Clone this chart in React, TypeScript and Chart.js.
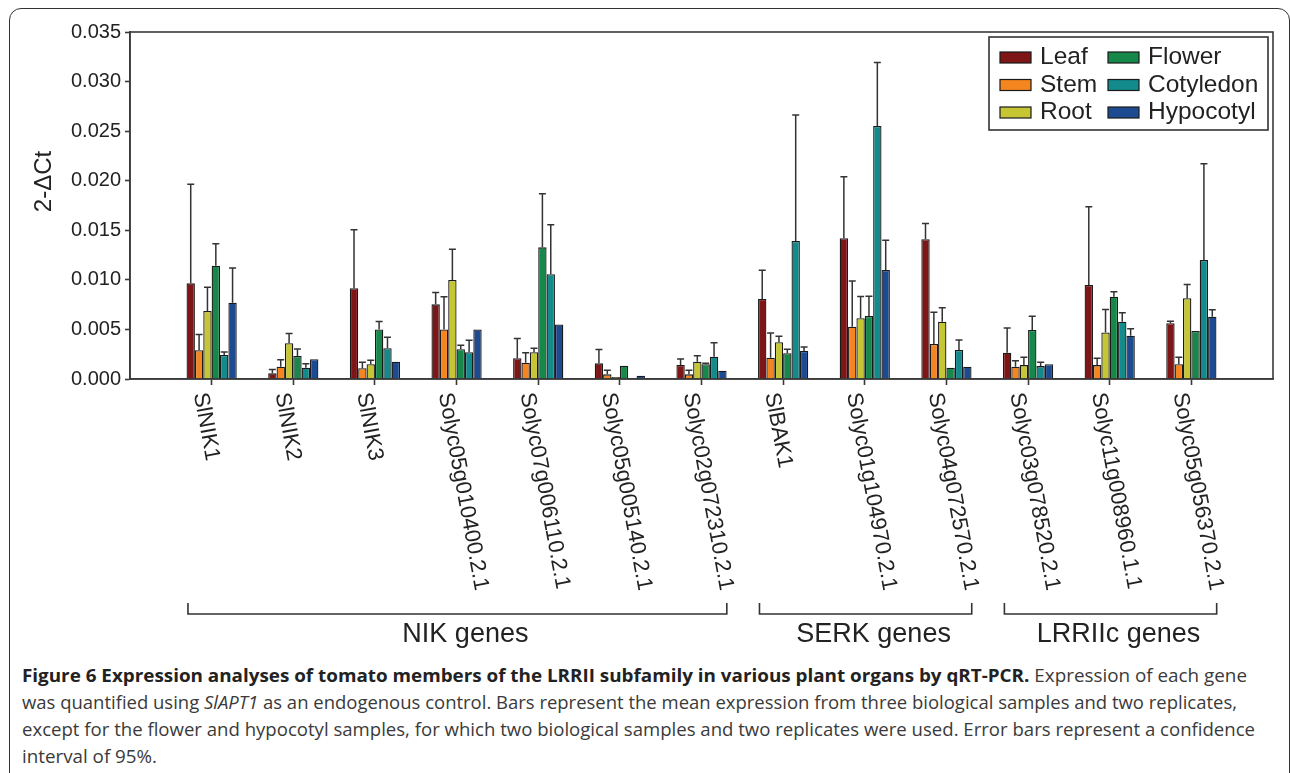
import React, { useEffect, useLayoutEffect, useRef } from 'react';
import { Chart, registerables } from 'chart.js';

Chart.register(...registerables);

const FONT = '"Liberation Sans", Arial, Helvetica, sans-serif';

const genes = [
  'SlNIK1', 'SlNIK2', 'SlNIK3', 'Solyc05g010400.2.1', 'Solyc07g006110.2.1',
  'Solyc05g005140.2.1', 'Solyc02g072310.2.1', 'SlBAK1', 'Solyc01g104970.2.1',
  'Solyc04g072570.2.1', 'Solyc03g078520.2.1', 'Solyc11g008960.1.1', 'Solyc05g056370.2.1',
];

const organs = ['Leaf', 'Stem', 'Root', 'Flower', 'Cotyledon', 'Hypocotyl'];
const organColors = ['#7e1517', '#f5861f', '#c6c635', '#15884a', '#138a8b', '#1d4b91'];

const leaf = [0.00965, 0.00057, 0.00915, 0.00753, 0.00209, 0.00158, 0.00141, 0.00807, 0.01419, 0.01409, 0.00265, 0.00948, 0.00562];
const leafErr = [0.0100, 0.0004, 0.0059, 0.0012, 0.0020, 0.0014, 0.0006, 0.0029, 0.0062, 0.0016, 0.0025, 0.0079, 0.0002];
const stem = [0.0029, 0.00124, 0.00108, 0.0050, 0.00165, 0.00047, 0.00047, 0.00215, 0.00528, 0.00353, 0.00124, 0.0014, 0.0015];
const stemErr = [0.0016, 0.0007, 0.0006, 0.0033, 0.0010, 0.0004, 0.0004, 0.0025, 0.0046, 0.0032, 0.0006, 0.0007, 0.0007];
const root = [0.00686, 0.0036, 0.0015, 0.00999, 0.0027, 0.0002, 0.00175, 0.0037, 0.00612, 0.00578, 0.0014, 0.0047, 0.00814];
const rootErr = [0.0024, 0.0010, 0.0004, 0.0031, 0.0004, 0, 0.0006, 0.0006, 0.0022, 0.0014, 0.0008, 0.0023, 0.0014];
const flower = [0.01143, 0.00232, 0.0050, 0.0030, 0.01328, 0.00134, 0.0015, 0.0026, 0.00635, 0.00114, 0.00494, 0.0083, 0.00484];
const flowerErr = [0.0022, 0.0007, 0.0008, 0.0004, 0.0054, 0, 0.0001, 0.0004, 0.0020, 0, 0.0014, 0.0005, 0];
const cotyledon = [0.00242, 0.00114, 0.0031, 0.0027, 0.01056, 0.00005, 0.00225, 0.01392, 0.02552, 0.00293, 0.0013, 0.00578, 0.0120];
const cotyledonErr = [0.0003, 0.0004, 0.0011, 0.0012, 0.0050, 0, 0.0014, 0.0127, 0.0064, 0.0010, 0.0004, 0.0009, 0.0097];
const hypocotyl = [0.0077, 0.0020, 0.00175, 0.0050, 0.0055, 0.00033, 0.00084, 0.00282, 0.0110, 0.00124, 0.0015, 0.00437, 0.00628];
const hypocotylErr = [0.0035, 0, 0, 0, 0, 0, 0, 0.0004, 0.0030, 0, 0, 0.0007, 0.0007];

const seriesValues = [leaf, stem, root, flower, cotyledon, hypocotyl];
const seriesErrors = [leafErr, stemErr, rootErr, flowerErr, cotyledonErr, hypocotylErr];

const yTicks = [0, 0.005, 0.01, 0.015, 0.02, 0.025, 0.03, 0.035];
const yTitle = '2-ΔCt';

const groupNames = ['NIK genes', 'SERK genes', 'LRRIIc genes'];
const groupFirst = [0, 7, 10];
const groupLast = [6, 9, 12];

const captionLines = [
  { bold: 'Figure 6 Expression analyses of tomato members of the LRRII subfamily in various plant organs by qRT-PCR.', rest: ' Expression of each gene', target: 1225 },
  { pre: 'was quantified using ', italic: 'SlAPT1', rest: ' as an endogenous control. Bars represent the mean expression from three biological samples and two replicates,', target: 1215 },
  { rest: 'except for the flower and hypocotyl samples, for which two biological samples and two replicates were used. Error bars represent a confidence', target: 1233 },
  { rest: 'interval of 95%.', target: 135 },
];

const W = 1290;
const H = 660;
const PLOT_BOTTOM = 379;

const pad = (arr: (number | null)[]) => [null, ...arr, null];

const customPlugin = {
  id: 'customDecor',
  afterDatasetsDraw(chart: any) {
    const ctx = chart.ctx;
    const y = chart.scales.y;
    ctx.save();
    ctx.strokeStyle = '#333';
    ctx.lineWidth = 1.5;
    chart.data.datasets.forEach((ds: any, i: number) => {
      const meta = chart.getDatasetMeta(i);
      const errs = pad(seriesErrors[i]);
      meta.data.forEach((el: any, j: number) => {
        const v = ds.data[j];
        const e = errs[j];
        if (v == null || !e) return;
        const yTop = y.getPixelForValue(v + e);
        const yBase = y.getPixelForValue(v);
        ctx.beginPath();
        ctx.moveTo(el.x, yBase);
        ctx.lineTo(el.x, yTop);
        ctx.moveTo(el.x - 3.5, yTop);
        ctx.lineTo(el.x + 3.5, yTop);
        ctx.stroke();
      });
    });
    ctx.restore();
  },
  afterDraw(chart: any) {
    const ctx = chart.ctx;
    const x = chart.scales.x;
    const ca = chart.chartArea;
    ctx.save();
    // plot frame
    ctx.strokeStyle = '#3a3a3a';
    ctx.lineWidth = 1.6;
    ctx.strokeRect(ca.left, ca.top, ca.right - ca.left, ca.bottom - ca.top);

    // y title
    ctx.save();
    ctx.translate(44, 181.5);
    ctx.rotate(-Math.PI / 2);
    ctx.fillStyle = '#222';
    ctx.font = `24px ${FONT}`;
    ctx.textAlign = 'center';
    ctx.textBaseline = 'middle';
    ctx.fillText(yTitle, 0, 0);
    ctx.restore();

    // rotated category labels
    const ang = (79.5 * Math.PI) / 180;
    ctx.fillStyle = '#222';
    ctx.font = `22px ${FONT}`;
    genes.forEach((g, i) => {
      const px = x.getPixelForValue(i + 1);
      ctx.save();
      ctx.translate(px - 1, ca.bottom + 12);
      ctx.rotate(ang);
      ctx.textAlign = 'left';
      ctx.textBaseline = 'top';
      ctx.fillText(g, 0, 0);
      ctx.restore();
    });

    // group brackets
    ctx.strokeStyle = '#333';
    ctx.lineWidth = 1.6;
    ctx.font = `27px ${FONT}`;
    ctx.textAlign = 'center';
    ctx.textBaseline = 'alphabetic';
    groupNames.forEach((name, k) => {
      const x1 = x.getPixelForValue(groupFirst[k] + 1 - 0.29);
      const x2 = x.getPixelForValue(groupLast[k] + 1 + 0.31);
      ctx.beginPath();
      ctx.moveTo(x1, 603);
      ctx.lineTo(x1, 614);
      ctx.lineTo(x2, 614);
      ctx.lineTo(x2, 603);
      ctx.stroke();
      ctx.fillText(name, (x1 + x2) / 2 + 8, 642);
    });

    // legend
    const bx = 989, by = 37, bw = 279, bh = 93;
    ctx.fillStyle = '#fff';
    ctx.fillRect(bx, by, bw, bh);
    ctx.strokeStyle = '#333';
    ctx.lineWidth = 1.6;
    ctx.strokeRect(bx, by, bw, bh);
    ctx.font = `24.5px ${FONT}`;
    ctx.textAlign = 'left';
    ctx.textBaseline = 'alphabetic';
    organs.forEach((name, i) => {
      const col = Math.floor(i / 3);
      const row = i % 3;
      const sx = col === 0 ? 1000 : 1108;
      const tx = col === 0 ? 1040 : 1148;
      const rowY = 64 + row * 27.5;
      ctx.fillStyle = organColors[i];
      ctx.fillRect(sx, rowY - 12, 31, 11);
      ctx.strokeStyle = '#1a1a1a';
      ctx.lineWidth = 1.2;
      ctx.strokeRect(sx, rowY - 12, 31, 11);
      ctx.fillStyle = '#222';
      ctx.fillText(name, tx, rowY);
    });
    ctx.restore();
  },
};

function ChartView() {
  const ref = useRef<HTMLCanvasElement | null>(null);
  useEffect(() => {
    if (!ref.current) return;
    const labels = ['', ...genes, ''];
    const chart = new Chart(ref.current, {
      type: 'bar',
      data: {
        labels,
        datasets: organs.map((name, i) => ({
          label: name,
          data: pad(seriesValues[i]),
          backgroundColor: organColors[i],
          borderColor: '#1a1a1a',
          borderWidth: 1.3,
          categoryPercentage: 0.615,
          barPercentage: 1.0,
        })),
      },
      options: {
        responsive: false,
        maintainAspectRatio: false,
        animation: false,
        layout: { padding: { left: 0, right: 17, top: 32, bottom: 0 } },
        plugins: {
          legend: { display: false },
          tooltip: { enabled: false },
        },
        scales: {
          x: {
            type: 'category',
            offset: false,
            grid: {
              offset: false,
              drawOnChartArea: false,
              tickLength: 6,
              tickWidth: 1.6,
              tickColor: (c: any) =>
                c.index === 0 || c.index === labels.length - 1 ? 'rgba(0,0,0,0)' : '#3a3a3a',
            },
            border: { color: '#3a3a3a', width: 1.6 },
            ticks: { display: false },
            afterFit: (s: any) => {
              s.height = H - PLOT_BOTTOM;
            },
          },
          y: {
            min: 0,
            max: 0.035,
            afterBuildTicks: (s: any) => {
              s.ticks = yTicks.map((v) => ({ value: v }));
            },
            ticks: {
              callback: (v: any) => Number(v).toFixed(3),
              font: { size: 20, family: FONT },
              color: '#222',
              padding: 4,
            },
            grid: { drawOnChartArea: false, tickLength: 5, tickWidth: 1.6, tickColor: '#3a3a3a' },
            border: { color: '#3a3a3a', width: 1.6 },
            afterFit: (s: any) => {
              s.width = 130;
            },
          },
        },
      },
      plugins: [customPlugin],
    } as any);
    return () => chart.destroy();
  }, []);
  return (
    <canvas
      ref={ref}
      width={W}
      height={H}
      style={{ position: 'absolute', left: 0, top: 0, width: W, height: H }}
    />
  );
}

function Caption() {
  const refs = useRef<(HTMLSpanElement | null)[]>([]);
  useLayoutEffect(() => {
    refs.current.forEach((el, i) => {
      if (!el) return;
      el.style.transform = 'none';
      const w = el.getBoundingClientRect().width;
      if (w > 0) el.style.transform = `scaleX(${captionLines[i].target / w})`;
    });
  }, []);
  return (
    <>
      {captionLines.map((l, i) => (
        <div
          key={i}
          style={{
            position: 'absolute',
            left: 22,
            top: 661 + i * 27,
            height: 27,
            lineHeight: '27px',
            fontFamily: '"Open Sans", "Noto Sans", sans-serif',
            fontSize: 18.5,
            color: '#3a3a3a',
            whiteSpace: 'nowrap',
          }}
        >
          <span
            ref={(el) => {
              refs.current[i] = el;
            }}
            style={{ display: 'inline-block', transformOrigin: 'left center' }}
          >
            {l.bold ? <b style={{ color: '#222' }}>{l.bold}</b> : null}
            {l.pre ?? null}
            {l.italic ? <i>{l.italic}</i> : null}
            {l.rest}
          </span>
        </div>
      ))}
    </>
  );
}

export default function App() {
  return (
    <div style={{ position: 'fixed', inset: 0, overflow: 'hidden', background: '#fff' }}>
      <div
        style={{
          position: 'absolute',
          left: 8.5,
          top: 7.5,
          width: 1281,
          height: 820,
          border: '1.5px solid #333',
          borderRadius: 12,
          boxSizing: 'border-box',
        }}
      />
      <ChartView />
      <Caption />
    </div>
  );
}
